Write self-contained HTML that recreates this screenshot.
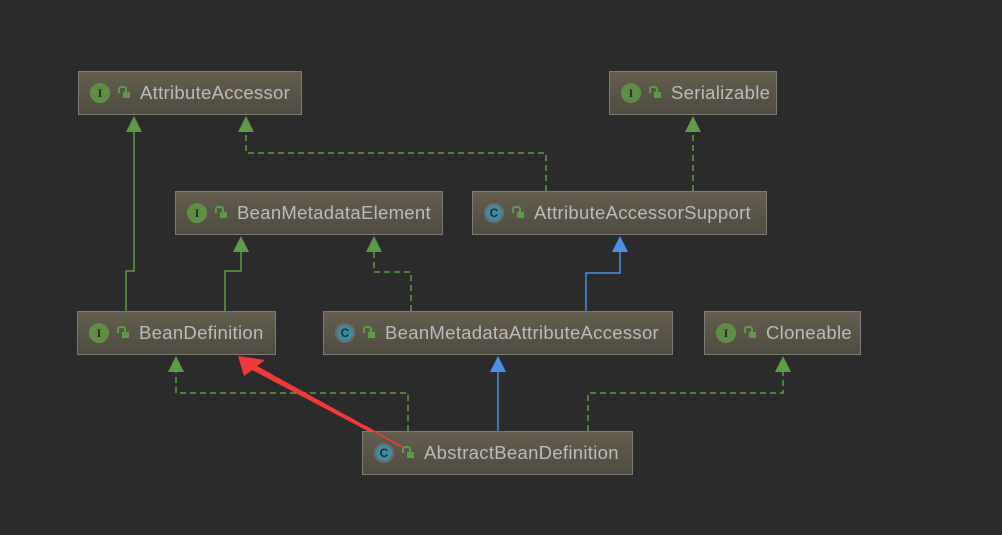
<!DOCTYPE html>
<html><head><meta charset="utf-8"><style>
body{margin:0;background:#2b2b2b;width:1002px;height:535px;overflow:hidden;font-family:"Liberation Sans",sans-serif}
.b{position:absolute;box-sizing:border-box;height:44px;border:1px solid #7d7b75;background:linear-gradient(#645e4f,#4f4b40);color:#bbbbbb;font-size:18.5px;letter-spacing:0.3px;line-height:42px;white-space:nowrap}
.ic{position:absolute;top:11px;width:20px;height:20px;border-radius:50%;color:#2b2b2b;font-size:12px;line-height:20px;text-align:center;font-weight:bold;letter-spacing:0}
.i{background:#5f8f45;font-family:"Liberation Serif",serif}
.c{background:#3c8ea3;box-shadow:0 0 0 2px #6a6a6a inset}
.lk{position:absolute;top:20px;width:7px;height:6px;background:#5d9b47}
.lk:before{content:"";position:absolute;left:-5px;top:-6px;width:5px;height:5px;border:2px solid #5d9b47;border-bottom:none;border-radius:3px 3px 0 0}
.t{position:absolute}
</style></head><body>
<svg width="1002" height="535" style="position:absolute;left:0;top:0">
<g fill="none" stroke-width="1.5">
<polyline stroke="#5f9a48" points="126,311 126,271 134,271 134,130"/>
<polyline stroke="#5f9a48" points="225,311 225,271 241,271 241,250"/>
<polyline stroke="#5f9a48" stroke-dasharray="6,4" points="546,191 546,153 246,153 246,130"/>
<polyline stroke="#5f9a48" stroke-dasharray="6,4" points="693,191 693,130"/>
<polyline stroke="#5f9a48" stroke-dasharray="6,4" points="411,311 411,272 374,272 374,250"/>
<polyline stroke="#4b8fe8" points="586,311 586,273 620,273 620,250"/>
<polyline stroke="#5f9a48" stroke-dasharray="6,4" points="408,431 408,393 176,393 176,370"/>
<polyline stroke="#4b8fe8" points="498,431 498,370"/>
<polyline stroke="#5f9a48" stroke-dasharray="6,4" points="588,431 588,393 783,393 783,370"/>
</g>
<g fill="#5f9a48">
<polygon points="134,116 126,132 142,132"/>
<polygon points="246,116 238,132 254,132"/>
<polygon points="693,116 685,132 701,132"/>
<polygon points="241,236 233,252 249,252"/>
<polygon points="374,236 366,252 382,252"/>
<polygon points="176,356 168,372 184,372"/>
<polygon points="783,356 775,372 791,372"/>
</g>
<g fill="#4b8fe8">
<polygon points="620,236 612,252 628,252"/>
<polygon points="498,356 490,372 506,372"/>
</g>
<polygon fill="#f03a3a" points="238,356 265,360 257,366 402,446 400,448 252,370 244,376"/>
</svg>
<div class="b" style="left:78px;top:71px;width:224px"><span class="ic i" style="left:11px">I</span><span class="lk" style="left:44px"></span><span class="t" style="left:61px">AttributeAccessor</span></div>
<div class="b" style="left:609px;top:71px;width:168px"><span class="ic i" style="left:11px">I</span><span class="lk" style="left:44px"></span><span class="t" style="left:61px">Serializable</span></div>
<div class="b" style="left:175px;top:191px;width:268px"><span class="ic i" style="left:11px">I</span><span class="lk" style="left:44px"></span><span class="t" style="left:61px">BeanMetadataElement</span></div>
<div class="b" style="left:472px;top:191px;width:295px"><span class="ic c" style="left:11px">C</span><span class="lk" style="left:44px"></span><span class="t" style="left:61px">AttributeAccessorSupport</span></div>
<div class="b" style="left:77px;top:311px;width:199px"><span class="ic i" style="left:11px">I</span><span class="lk" style="left:44px"></span><span class="t" style="left:61px">BeanDefinition</span></div>
<div class="b" style="left:323px;top:311px;width:350px"><span class="ic c" style="left:11px">C</span><span class="lk" style="left:44px"></span><span class="t" style="left:61px">BeanMetadataAttributeAccessor</span></div>
<div class="b" style="left:704px;top:311px;width:157px"><span class="ic i" style="left:11px">I</span><span class="lk" style="left:44px"></span><span class="t" style="left:61px">Cloneable</span></div>
<div class="b" style="left:362px;top:431px;width:271px"><span class="ic c" style="left:11px">C</span><span class="lk" style="left:44px"></span><span class="t" style="left:61px">AbstractBeanDefinition</span></div>
<svg width="1002" height="535" style="position:absolute;left:0;top:0;pointer-events:none"><line x1="365" y1="426" x2="402" y2="447" stroke="#f03a3a" stroke-width="1.5"/></svg>
</body></html>
